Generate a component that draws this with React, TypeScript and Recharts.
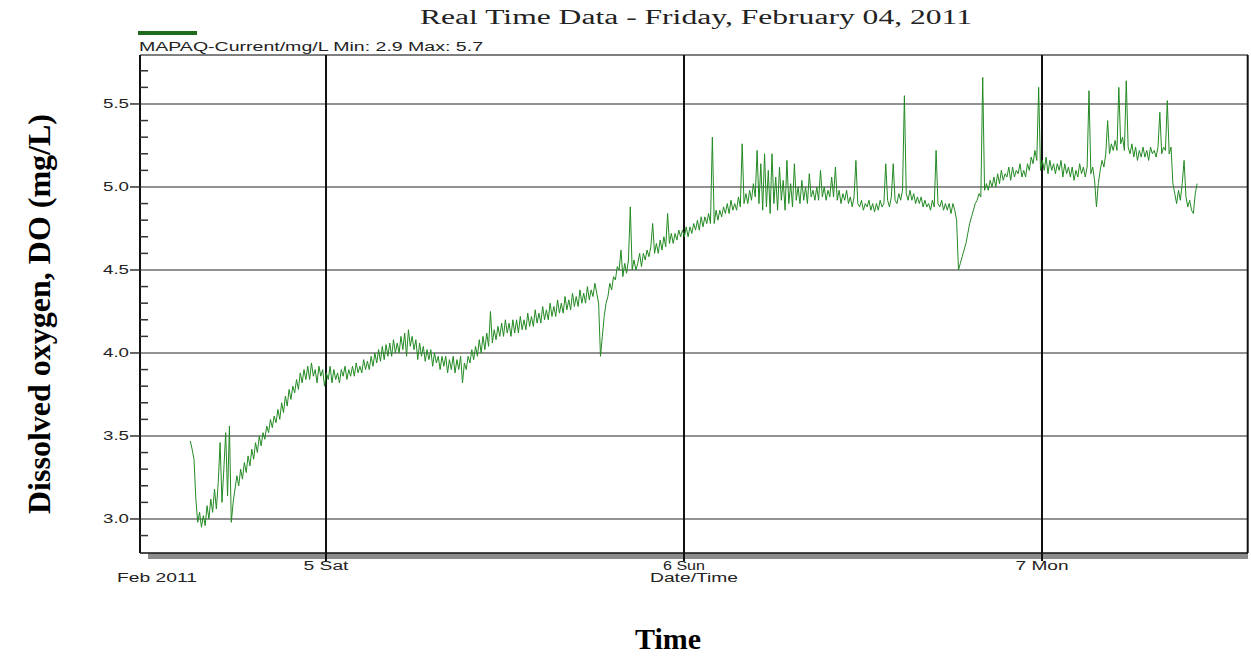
import { LineChart, Line, XAxis, YAxis, ReferenceLine } from "recharts";

// sampling grid: hours since Feb 4 2011 00:00, one reading every 7.5 min (thinned)
const START_HOUR = 14.9;
const STEP_HOURS = 0.125;

// dissolved oxygen (mg/L), one row per hour
const doValues = [
  3.47, 3.42, 3.36, 3.12, 2.98, 3.04, 2.95, 3.02,
  2.96, 3.08, 3.0, 3.12, 3.04, 3.18, 3.06, 3.22,
  3.46, 3.1, 3.3, 3.52, 3.14, 3.56, 2.98, 3.1,
  3.18, 3.26, 3.2, 3.3, 3.24, 3.34, 3.28, 3.38,
  3.32, 3.42, 3.36, 3.46, 3.4, 3.5, 3.44, 3.52,
  3.48, 3.56, 3.52, 3.6, 3.55, 3.62, 3.58, 3.66,
  3.6, 3.7, 3.64, 3.74, 3.68, 3.78, 3.72, 3.8,
  3.76, 3.84, 3.78, 3.88, 3.82, 3.9, 3.84, 3.92,
  3.84, 3.94, 3.86, 3.9, 3.82, 3.92, 3.86, 3.9,
  3.8, 3.88, 3.84, 3.92, 3.82, 3.9, 3.84, 3.88,
  3.82, 3.9, 3.86, 3.92, 3.84, 3.9, 3.86, 3.92,
  3.86, 3.94, 3.88, 3.92, 3.88, 3.96, 3.9, 3.95,
  3.9, 3.98, 3.92, 4.0, 3.94, 4.02, 3.95, 4.04,
  3.96, 4.05, 3.98, 4.06, 3.98, 4.08, 4.0, 4.06,
  4.0, 4.1, 4.02, 4.12, 3.98, 4.14, 4.04, 4.1,
  4.02, 4.08, 3.96, 4.06, 3.98, 4.04, 3.95, 4.02,
  3.96, 4.02, 3.92, 4.0, 3.94, 3.98, 3.9, 3.98,
  3.92, 3.98, 3.88, 3.96, 3.9, 3.98, 3.88, 3.96,
  3.9, 3.98, 3.82, 3.94, 3.9, 3.98, 3.94, 4.02,
  3.96, 4.04, 3.98, 4.08, 4.0, 4.1, 4.02, 4.12,
  4.04, 4.25, 4.06, 4.14, 4.08, 4.16, 4.1, 4.18,
  4.1, 4.2, 4.12, 4.18, 4.1, 4.2, 4.12, 4.2,
  4.12, 4.22, 4.14, 4.2, 4.14, 4.24, 4.16, 4.22,
  4.16, 4.26, 4.18, 4.24, 4.18, 4.28, 4.2, 4.26,
  4.2, 4.3, 4.22, 4.28, 4.22, 4.32, 4.24, 4.3,
  4.24, 4.34, 4.26, 4.32, 4.26, 4.36, 4.28, 4.34,
  4.28, 4.38, 4.3, 4.36, 4.3, 4.4, 4.32, 4.38,
  4.34, 4.42, 4.36, 4.3, 3.98, 4.1, 4.22, 4.3,
  4.34, 4.42, 4.38, 4.46, 4.44, 4.52, 4.5, 4.62,
  4.46, 4.54, 4.48, 4.56, 4.88, 4.5, 4.56, 4.5,
  4.54, 4.6, 4.52, 4.6, 4.56, 4.62, 4.58, 4.64,
  4.78, 4.6, 4.66, 4.6, 4.68, 4.62, 4.7, 4.64,
  4.84, 4.66, 4.72, 4.66, 4.72, 4.68, 4.74, 4.7,
  4.74, 4.7, 4.76, 4.7, 4.76, 4.72, 4.78, 4.74,
  4.8, 4.74, 4.82, 4.76, 4.82, 4.78, 4.84, 4.78,
  5.3, 4.78, 4.86, 4.8, 4.86, 4.82, 4.88, 4.84,
  4.9, 4.84, 4.92, 4.86, 4.9, 4.86, 4.94, 4.88,
  5.26, 4.9, 4.96, 4.9, 4.98, 4.92, 5.02, 4.94,
  5.22, 4.9, 5.14, 4.86, 5.2, 4.88, 5.1, 4.84,
  5.2, 4.9, 5.06, 4.86, 5.12, 4.92, 5.04, 4.86,
  5.16, 4.9, 5.02, 4.88, 5.14, 4.92, 5.0, 4.9,
  5.04, 4.92, 5.0, 4.9, 5.08, 4.94, 4.98, 4.92,
  5.0, 4.92, 5.1, 4.94, 5.0, 4.92, 4.98, 4.94,
  5.06, 4.94, 5.12, 4.92, 4.98, 4.9, 4.96, 4.92,
  4.98, 4.9, 4.94, 4.88, 4.94, 5.16, 4.9, 4.88,
  4.92, 4.86, 4.9, 4.88, 4.92, 4.86, 4.9, 4.85,
  4.9, 4.86, 4.92, 4.88, 4.9, 5.14, 4.92, 4.88,
  4.94, 5.14, 4.92, 4.9, 4.96, 4.92, 4.98, 5.55,
  4.96, 4.92, 4.98, 4.92, 4.96, 4.9, 4.94, 4.9,
  4.94, 4.88, 4.92, 4.88, 4.9, 4.86, 4.92, 4.88,
  5.22, 4.9, 4.88, 4.92, 4.86, 4.9, 4.86, 4.9,
  4.84, 4.9, 4.86, 4.8, 4.5, 4.54, 4.58, 4.62,
  4.66, 4.72, 4.78, 4.82, 4.86, 4.9, 4.92, 4.96,
  4.94, 5.66, 4.98, 5.02, 4.98, 5.04, 5.0, 5.06,
  5.0, 5.08, 5.02, 5.1, 5.04, 5.08, 5.06, 5.12,
  5.04, 5.12, 5.06, 5.1, 5.08, 5.14, 5.06, 5.1,
  5.06, 5.14, 5.1, 5.18, 5.14, 5.22, 5.16, 5.6,
  5.1, 5.16, 5.1, 5.18, 5.08, 5.16, 5.1, 5.14,
  5.08, 5.14, 5.1, 5.16, 5.06, 5.14, 5.08, 5.12,
  5.06, 5.12, 5.04, 5.1, 5.06, 5.14, 5.08, 5.12,
  5.06, 5.12, 5.58, 5.08, 5.12, 5.04, 4.88, 5.02,
  5.1, 5.16, 5.12, 5.2, 5.4, 5.2, 5.26, 5.22,
  5.28, 5.22, 5.6, 5.26, 5.3, 5.22, 5.64, 5.24,
  5.2, 5.26, 5.18, 5.24, 5.16, 5.22, 5.18, 5.24,
  5.18, 5.22, 5.16, 5.24, 5.2, 5.22, 5.18, 5.24,
  5.45, 5.2, 5.24, 5.22, 5.52, 5.2, 5.24, 5.02,
  4.96, 4.9, 4.98, 4.92, 5.02, 5.16, 4.94, 4.88,
  4.92, 4.86, 4.84, 4.96, 5.02,
];

const dayTicks = [24, 48, 72];
const dayLabels = ["5 Sat", "6 Sun", "7 Mon"];
const dayLabelWidths = [45, 42, 53];

const yMajorTicks = [3.0, 3.5, 4.0, 4.5, 5.0, 5.5];
const yAllTicks = [
  2.9, 3.0, 3.1, 3.2, 3.3, 3.4, 3.5, 3.6, 3.7, 3.8, 3.9, 4.0, 4.1, 4.2, 4.3,
  4.4, 4.5, 4.6, 4.7, 4.8, 4.9, 5.0, 5.1, 5.2, 5.3, 5.4, 5.5, 5.6, 5.7,
];

const X_DOMAIN: [number, number] = [11.53, 85.81];
const Y_DOMAIN: [number, number] = [2.795, 5.795];

const chartData = doValues.map((v, i) => ({
  hour: START_HOUR + i * STEP_HOURS,
  value: v,
}));

const SANS = "'Liberation Sans', Arial, sans-serif";
const SERIF = "'Liberation Serif', 'Times New Roman', serif";
const LINE_GREEN = "#238a23";

function isMajor(v: number) {
  return yMajorTicks.some((m) => Math.abs(m - v) < 1e-6);
}

function YTick(props: any) {
  const { x, y, payload } = props;
  const v = Number(payload?.value);
  if (isMajor(v)) {
    return (
      <g>
        <line x1={x - 10} x2={x} y1={y} y2={y} stroke="#333" strokeWidth={1.5} />
        <text
          x={x - 37}
          y={y + 4.5}
          fontFamily={SANS}
          fontSize={13}
          fill="#222"
          textLength={26}
          lengthAdjust="spacingAndGlyphs"
        >
          {v.toFixed(1)}
        </text>
      </g>
    );
  }
  return <line x1={x} x2={x + 8} y1={y} y2={y} stroke="#333" strokeWidth={1.5} />;
}

function XTick(props: any) {
  const { x, y, index } = props;
  const w = dayLabelWidths[index] ?? 45;
  return (
    <g>
      <line x1={x} x2={x} y1={y} y2={y + 8} stroke="#111" strokeWidth={2} />
      <text
        x={x - w / 2}
        y={y + 17}
        fontFamily={SANS}
        fontSize={12}
        fill="#222"
        textLength={w}
        lengthAdjust="spacingAndGlyphs"
      >
        {dayLabels[index]}
      </text>
    </g>
  );
}

export default function App() {
  return (
    <div style={{ position: "absolute", left: 0, top: 0, width: 1251, height: 656, background: "#fff" }}>
      <svg width={1251} height={656} style={{ position: "absolute", left: 0, top: 0 }}>
        <rect x={148} y={553} width={1100} height={6} fill="#8c8c8c" />
        <text
          x={420}
          y={24}
          fontFamily={SERIF}
          fontSize={20}
          fill="#222"
          textLength={552}
          lengthAdjust="spacingAndGlyphs"
        >
          Real Time Data - Friday, February 04, 2011
        </text>
        <rect x={138} y={31} width={59} height={4} fill="#1e6b1e" />
        <text
          x={139}
          y={51}
          fontFamily={SANS}
          fontSize={12}
          fill="#222"
          textLength={344}
          lengthAdjust="spacingAndGlyphs"
        >
          MAPAQ-Current/mg/L Min: 2.9 Max: 5.7
        </text>
        <text
          x={117}
          y={582}
          fontFamily={SANS}
          fontSize={12}
          fill="#222"
          textLength={80}
          lengthAdjust="spacingAndGlyphs"
        >
          Feb 2011
        </text>
        <text
          x={650}
          y={582}
          fontFamily={SANS}
          fontSize={12}
          fill="#222"
          textLength={88}
          lengthAdjust="spacingAndGlyphs"
        >
          Date/Time
        </text>
        <text
          transform="translate(50,314) rotate(-90)"
          textAnchor="middle"
          fontFamily={SERIF}
          fontWeight="bold"
          fontSize={31}
          fill="#000"
          textLength={400}
          lengthAdjust="spacingAndGlyphs"
        >
          Dissolved oxygen, DO (mg/L)
        </text>
        <text
          x={668}
          y={649}
          textAnchor="middle"
          fontFamily={SERIF}
          fontWeight="bold"
          fontSize={30}
          fill="#000"
        >
          Time
        </text>
      </svg>
      <div style={{ position: "absolute", left: 0, top: 0 }}>
        <LineChart
          width={1251}
          height={656}
          data={chartData}
          margin={{ top: 55, right: 3, bottom: 0, left: 0 }}
        >
          <XAxis
            dataKey="hour"
            type="number"
            domain={X_DOMAIN}
            ticks={dayTicks}
            interval={0}
            height={103}
            tickSize={0}
            tickMargin={0}
            tick={<XTick />}
            axisLine={{ stroke: "#111", strokeWidth: 1.5 }}
            allowDataOverflow
          />
          <YAxis
            type="number"
            domain={Y_DOMAIN}
            ticks={yAllTicks}
            interval={0}
            width={140}
            tickSize={0}
            tickMargin={0}
            tick={<YTick />}
            axisLine={{ stroke: "#111", strokeWidth: 2 }}
            allowDataOverflow
          />
          {yMajorTicks.map((v) => (
            <ReferenceLine key={`h${v}`} y={v} stroke="#6e6e6e" strokeWidth={1.5} />
          ))}
          <ReferenceLine y={Y_DOMAIN[1]} stroke="#555" strokeWidth={1.5} />
          <ReferenceLine x={X_DOMAIN[1] - 0.02} stroke="#111" strokeWidth={2} />
          {dayTicks.map((d) => (
            <ReferenceLine key={`d${d}`} x={d} stroke="#111" strokeWidth={2} />
          ))}
          <Line
            type="linear"
            dataKey="value"
            stroke={LINE_GREEN}
            strokeWidth={1}
            dot={false}
            activeDot={false}
            isAnimationActive={false}
          />
        </LineChart>
      </div>
    </div>
  );
}
